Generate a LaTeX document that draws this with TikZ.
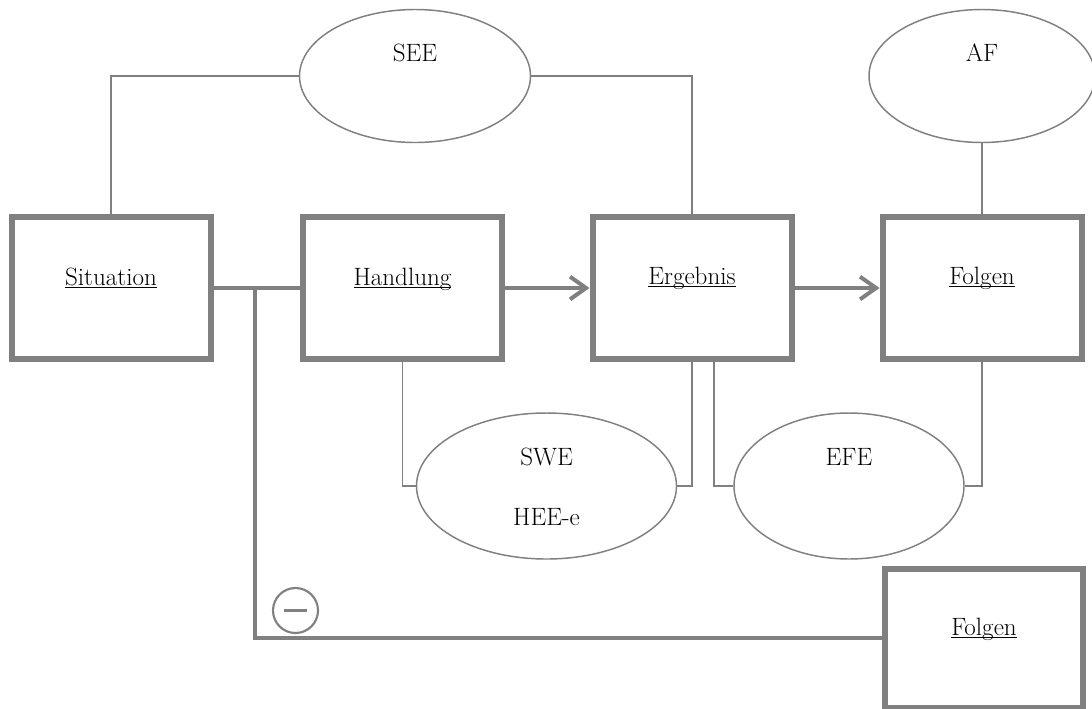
\documentclass[tikz,border=0pt]{standalone}
\usepackage{tikz}
\usetikzlibrary{positioning,arrows.meta,shapes.geometric,calc}
\definecolor{framegray}{RGB}{128,128,128}
\newsavebox{\ulbox}
\newcommand{\ulword}[1]{\sbox{\ulbox}{#1}\usebox{\ulbox}\llap{\rule[-2.6pt]{\wd\ulbox}{1.3pt}}}

\begin{document}
\begin{tikzpicture}[
    x=0.75pt, y=-0.75pt,
    node font=\fontsize{18.8}{22}\selectfont,
    box/.style={draw=framegray, line width=4.5pt, rectangle, minimum width=149.25pt, minimum height=106.5pt, inner sep=0pt},
    oval/.style={draw=framegray, line width=1.1pt, ellipse, inner sep=0pt},
    thinline/.style={draw=framegray, line width=1.2pt},
    thickline/.style={draw=framegray, line width=3.4pt},
    arrowline/.style={draw=framegray, line width=3.4pt, -{Straight Barb[length=12pt, width=17pt, line width=3pt]}},
    txt/.style={anchor=base, inner sep=0pt}
]
\useasboundingbox (0,0) rectangle (1092,708);

% boxes
\node[box] (sit) at (111,288) {};
\node[box] (handl) at (402.5,288) {};
\node[box] (erg) at (692,288) {};
\node[box] (folg) at (982,288) {};
\node[box, minimum width=148.5pt, minimum height=104.25pt] (folgneg) at (984,638) {};

\node[txt] (sit-t) at (111,285) {\ulword{Situation}};
\node[txt] (handl-t) at (402.5,285) {\ulword{Handlung}};
\node[txt] (erg-t) at (692,284) {\ulword{Ergebnis}};
\node[txt] (folg-t) at (982,284) {\ulword{Folgen}};
\node[txt] (folgneg-t) at (984,635) {\ulword{Folgen}};

% ovals
\node[oval, minimum width=173.25pt, minimum height=99.75pt] (see) at (415,76) {};
\node[oval, minimum width=169.5pt, minimum height=99.75pt] (af) at (982,76) {};
\node[oval, minimum width=195pt, minimum height=109.5pt] (swe) at (546.5,486) {};
\node[oval, minimum width=172.5pt, minimum height=109.5pt] (efe) at (849,486) {};

\node (see-t) at (415,53) {SEE};
\node (af-t) at (982,53) {AF};
\node (swe-t) at (546.5,457) {SWE};
\node (hee-t) at (546.5,517) {HEE-e};
\node (efe-t) at (849,457) {EFE};

% thin links to the ovals
\draw[thinline] (sit.north) |- (see.west);
\draw[thinline] (see.east) -| (erg.north);
\draw[thinline] (af.south) -- (folg.north);
\draw[thinline] (handl.south) |- (swe.west);
\draw[thinline] (swe.east) -| (erg.south);
\draw[thinline] ($(erg.south)+(22,0)$) |- (efe.west);
\draw[thinline] (efe.east) -| (folg.south);

% main chain
\draw[thickline] (sit.east) -- (handl.west);
\draw[arrowline] (handl.east) -- (erg.west);
\draw[arrowline] (erg.east) -- (folg.west);

\coordinate (split) at (255,288);
\draw[thickline] (split) |- (folgneg.west);

\node[draw=framegray, line width=1.6pt, circle, minimum size=33.75pt, inner sep=0pt] (neg) at (295.5,610.5) {};
\draw[framegray, line width=2.7pt] ($(neg.center)+(-11.5,0)$) -- ($(neg.center)+(11.5,0)$);

\end{tikzpicture}
\end{document}
